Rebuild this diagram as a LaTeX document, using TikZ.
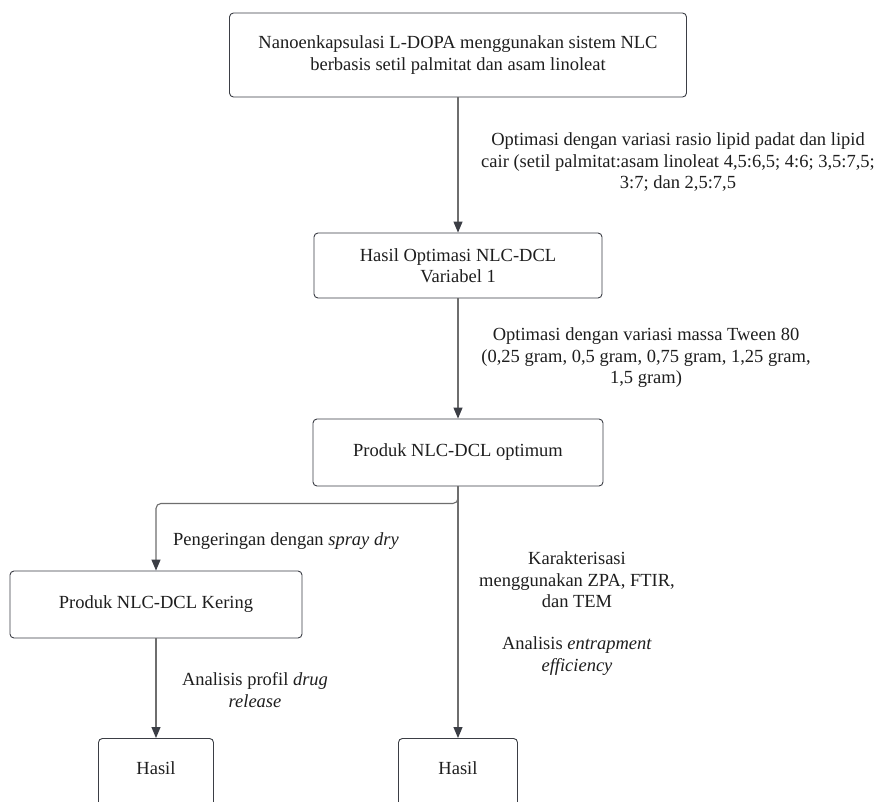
\documentclass[tikz,border=0pt]{standalone}
\usepackage{fontspec}
\setmainfont{Liberation Serif}
\usepackage{xcolor}
\usepackage{tikz}
\usetikzlibrary{shapes,arrows.meta,positioning}
\definecolor{linegray}{HTML}{6E6E6E}
\definecolor{tipgray}{HTML}{3B3E45}
\definecolor{textblack}{HTML}{1E1E1E}

\begin{document}
\begin{tikzpicture}[
    x=1pt, y=-1pt,
    font=\fontsize{18.5}{21.5}\selectfont,
    every node/.style={text=textblack},
    flowbox/.style={draw=tipgray, line width=0.9pt, rounded corners=4pt, align=center, inner sep=0pt},
    flowline/.style={draw=linegray, line width=1.1pt},
    flowarrow/.style={flowline, -{Triangle[length=11pt,width=9pt,color=tipgray]}},
    flowlabel/.style={align=center, inner sep=0pt}
]
                \clip (0,0) rectangle (880,801);
                \fill[white] (0,0) rectangle (880,801);

                \node[
                    flowbox,
                    minimum width=457pt,
                    minimum height=84pt
                ] (nano) at (458,55) {Nanoenkapsulasi L-DOPA menggunakan sistem NLC\\berbasis setil palmitat dan asam linoleat};

                \node[
                    flowbox,
                    minimum width=288pt,
                    minimum height=65pt
                ] (var1) at (458,265.5) {Hasil Optimasi NLC-DCL\\Variabel 1};

                \node[
                    flowbox,
                    minimum width=290pt,
                    minimum height=67pt
                ] (optimum) at (458,452.5) {Produk NLC-DCL optimum};

                \node[
                    flowbox,
                    minimum width=292pt,
                    minimum height=67pt
                ] (kering) at (156,604.5) {Produk NLC-DCL Kering};

                \node[
                    flowbox,
                    minimum width=115pt,
                    text height=36pt,
                    text depth=40pt,
                    anchor=north
                ] (hasilrelease) at (156,738) {Hasil};

                \node[
                    flowbox,
                    minimum width=119pt,
                    text height=36pt,
                    text depth=40pt,
                    anchor=north
                ] (hasilkarakter) at (458,738) {Hasil};

                \draw[flowarrow] (nano.south) -- (var1.north);
                \draw[flowarrow] (var1.south) -- (optimum.north);
                \draw[flowarrow, rounded corners=5pt] (optimum.south) -- ++(0,17) -| (kering.north);
                \draw[flowarrow] (optimum.south) -- (hasilkarakter.north);
                \draw[flowarrow] (kering.south) -- (hasilrelease.north);

                \node[flowlabel] (rasio) at (678,162) {Optimasi dengan variasi rasio lipid padat dan lipid\\cair (setil palmitat:asam linoleat 4,5:6,5; 4:6; 3,5:7,5;\\3:7; dan 2,5:7,5};
                \node[flowlabel] (tween) at (646,358) {Optimasi dengan variasi massa Tween 80\\(0,25 gram, 0,5 gram, 0,75 gram, 1,25 gram,\\1,5 gram)};
                \node[flowlabel, anchor=west] (spray) at (173,541) {Pengeringan dengan \textit{spray dry}};
                \node[flowlabel] (karakter) at (577,580) {Karakterisasi\\menggunakan ZPA, FTIR,\\dan TEM};
                \node[flowlabel] (entrap) at (577,656) {Analisis \textit{entrapment}\\\textit{efficiency}};
                \node[flowlabel] (release) at (255,690) {Analisis profil \textit{drug}\\\textit{release}};

             \end{tikzpicture}
\end{document}
